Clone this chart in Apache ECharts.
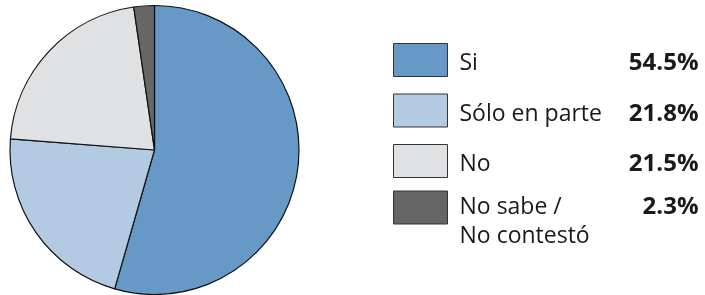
<!DOCTYPE html>
<html>
<head>
<meta charset="utf-8">
<script src="https://cdn.jsdelivr.net/npm/echarts@6/dist/echarts.min.js"></script>
<style>
  html, body { margin: 0; padding: 0; background: #fff; }
  #chart { width: 705px; height: 295px; }
</style>
</head>
<body>
<div id="chart"></div>
<script>
  // datos de la encuesta
  var categorias = ['Si', 'Sólo en parte', 'No', 'No sabe / No contestó']
  var valores = [54.5, 21.8, 21.5, 2.3]
  var etiquetas = ['54.5%', '21.8%', '21.5%', '2.3%']
  var colores = ['#6699c5', '#b3cbe2', '#e0e1e3', '#666666']

  var chart = echarts.init(document.getElementById('chart'))

  var datos = []
  for (var i = 0; i < categorias.length; i++) {
    datos.push({ name: categorias[i], value: valores[i], itemStyle: { color: colores[i] } })
  }

  var fuente = '"Open Sans", "Noto Sans", sans-serif'
  var rich = {
    n: { fontFamily: fuente, fontSize: 23, color: '#1a1a1a', width: 136, lineHeight: 29, padding: [7, 0, 0, 7] },
    v: { fontFamily: fuente, fontSize: 24, fontWeight: 'bold', color: '#1a1a1a', width: 103, lineHeight: 29, align: 'right', padding: [7, 0, 0, 0] },
    sp: { fontSize: 23, lineHeight: 29 },
    n2: { fontFamily: fuente, fontSize: 23, color: '#1a1a1a', width: 136, lineHeight: 29, padding: [0, 0, 0, 7] },
    v2: { fontFamily: fuente, fontSize: 24, fontWeight: 'bold', color: '#1a1a1a', width: 103, lineHeight: 29, align: 'right' }
  }

  chart.setOption({
    animation: false,
    legend: [{
      orient: 'vertical',
      left: 393,
      top: 43,
      padding: 0,
      itemWidth: 54,
      itemHeight: 33,
      itemGap: 16.5,
      selectedMode: false,
      icon: 'rect',
      itemStyle: { borderColor: '#333', borderWidth: 1 },
      data: categorias.slice(0, 3),
      formatter: function (name) {
        var idx = categorias.indexOf(name)
        return '{n|' + name + '}{v|' + etiquetas[idx] + '}'
      },
      textStyle: { rich: rich }
    }, {
      orient: 'vertical',
      left: 393,
      top: 167,
      padding: 0,
      itemWidth: 54,
      itemHeight: 33,
      selectedMode: false,
      icon: 'rect',
      itemStyle: { borderColor: '#333', borderWidth: 1 },
      data: [categorias[3]],
      formatter: function () {
        return '{sp|}\n{n2|No sabe /}{v2|' + etiquetas[3] + '}\n{n2|No contestó}'
      },
      textStyle: { rich: rich }
    }],
    series: [{
      name: 'Respuesta',
      type: 'pie',
      center: [154.5, 150],
      radius: 144.5,
      startAngle: 90,
      clockwise: true,
      label: { show: false },
      labelLine: { show: false },
      itemStyle: { borderColor: '#111', borderWidth: 1.2 },
      emphasis: { disabled: true },
      data: datos
    }]
  })
</script>
</body>
</html>
